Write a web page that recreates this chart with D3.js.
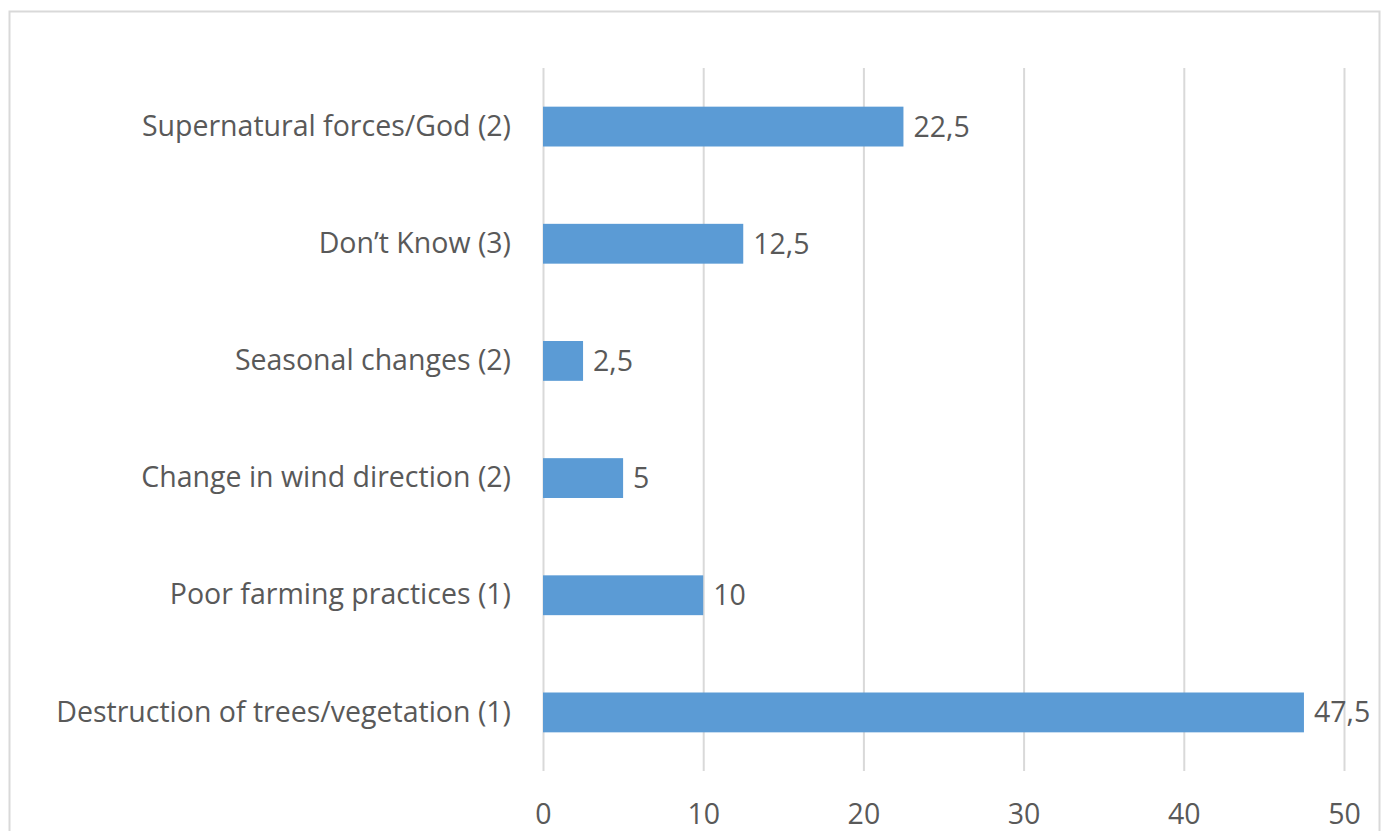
<!DOCTYPE html>
<html><head><meta charset="utf-8">
<script src="https://cdn.jsdelivr.net/npm/d3@7"></script>
<style>body{margin:0;background:#fff;}svg{display:block;}</style>
</head><body>
<svg id="chart" width="1390" height="831"></svg>
<script>
const categories = ["Supernatural forces/God (2)","Don’t Know (3)","Seasonal changes (2)","Change in wind direction (2)","Poor farming practices (1)","Destruction of trees/vegetation (1)"];
const values = [22.5, 12.5, 2.5, 5, 10, 47.5];
const valueLabels = ["22,5","12,5","2,5","5","10","47,5"];
const xTicks = [0,10,20,30,40,50];

const svg = d3.select("#chart");
const font = "'Open Sans', 'Noto Sans', sans-serif";
const textColor = "#595959";
const fs = 28.5;

svg.append("rect").attr("x",9.5).attr("y",11.5).attr("width",1370).attr("height",840)
  .attr("fill","#fff").attr("stroke","#d9d9d9").attr("stroke-width",2);

const x = d3.scaleLinear().domain([0,50]).range([543,1344]);
const y = d3.scaleBand().domain(categories).range([68,771]).paddingInner(0.66).paddingOuter(0.33);

const gx = svg.append("g").attr("transform","translate(0,771)")
  .call(d3.axisBottom(x).tickValues(xTicks).tickSize(703).tickPadding(0).tickFormat(d3.format("d")));
gx.select(".domain").remove();
gx.selectAll(".tick line").attr("y1",0).attr("y2",-703).attr("stroke","#d9d9d9").attr("stroke-width",2);
gx.selectAll(".tick text").attr("y",53).attr("dy","0").attr("font-family",font).attr("font-size",fs).attr("fill",textColor);

svg.append("g").selectAll("rect").data(values).join("rect")
  .attr("x",x(0)).attr("y",(d,i)=>y(categories[i])).attr("width",d=>x(d)-x(0)).attr("height",y.bandwidth())
  .attr("fill","#5b9bd5");

svg.append("g").selectAll("text").data(values).join("text")
  .attr("x",d=>x(d)+10).attr("y",(d,i)=>y(categories[i])+y.bandwidth()/2).attr("dy","0.35em")
  .attr("font-family",font).attr("font-size",fs).attr("fill",textColor)
  .text((d,i)=>valueLabels[i]);

const gy = svg.append("g").attr("transform","translate(543,0)")
  .call(d3.axisLeft(y).tickSize(0).tickPadding(32));
gy.select(".domain").remove();
gy.selectAll(".tick text").attr("font-family",font).attr("font-size",fs).attr("fill",textColor);
</script>
</body></html>
